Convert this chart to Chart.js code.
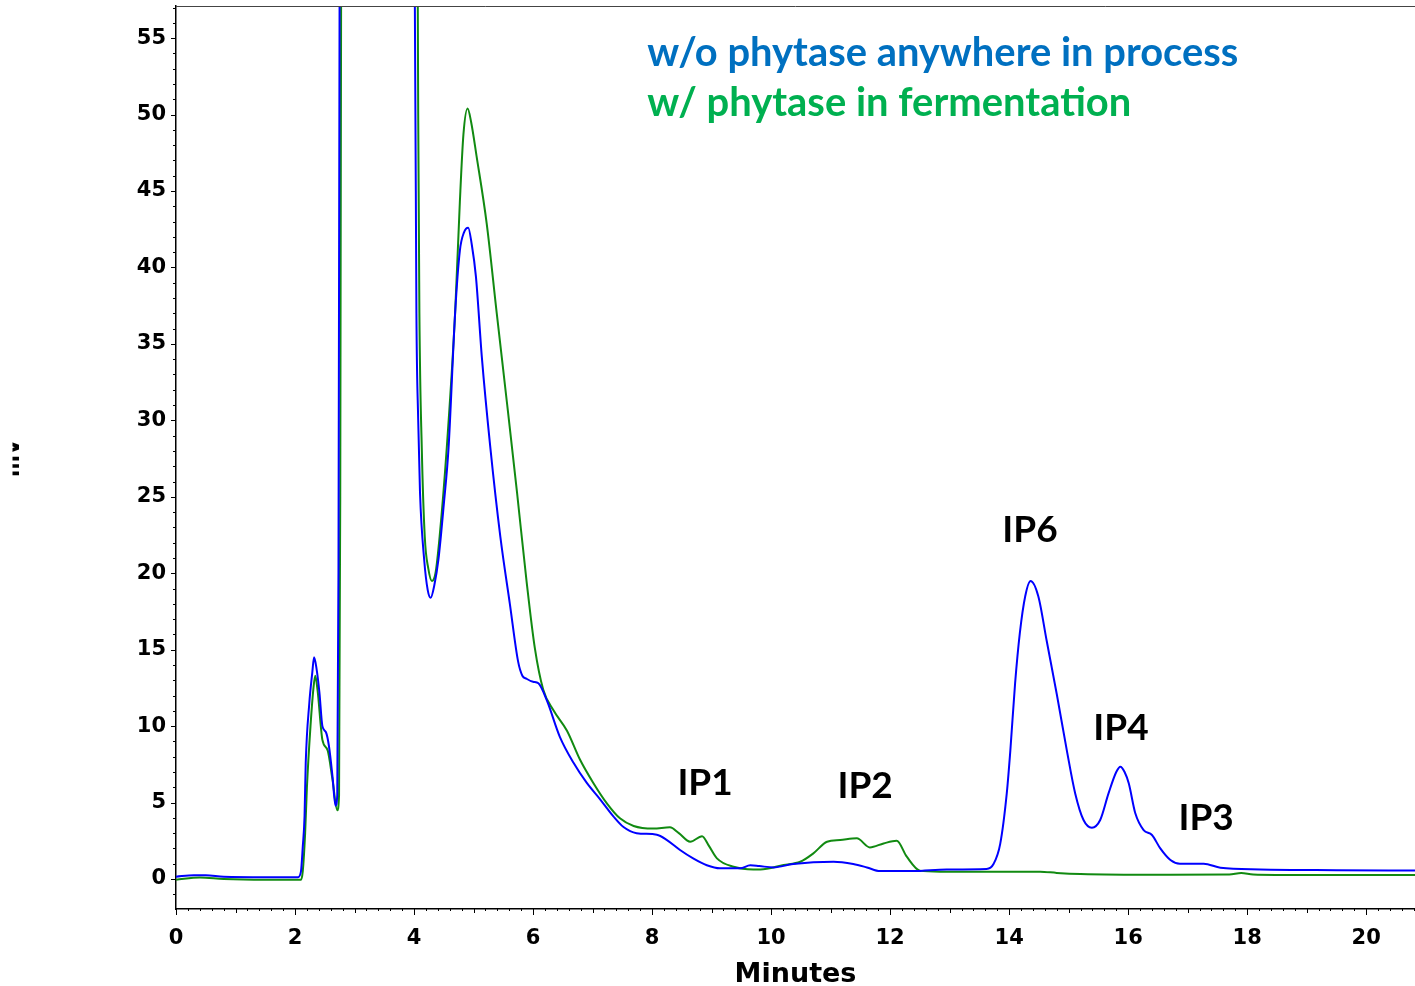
<!DOCTYPE html>
<html>
<head>
<meta charset="utf-8">
<title>Chromatogram</title>
<script src="https://cdn.jsdelivr.net/npm/chart.js"></script>
<style>
  html, body { margin: 0; padding: 0; background: #fff; }
  #wrap { width: 1415px; height: 986px; }
</style>
</head>
<body>
<div id="wrap"><canvas id="chart" width="1415" height="986"></canvas></div>
<script>
// retention time (min) and detector signal (mV)
const blueTime = [0.00, 0.30, 0.50, 0.80, 1.50, 2.05, 2.10, 2.13, 2.16, 2.18, 2.24, 2.29, 2.32, 2.36, 2.41, 2.46, 2.52, 2.57, 2.63, 2.68,
  2.71, 2.73, 2.75, 2.80, 3.40, 3.95, 4.01, 4.03, 4.04, 4.07, 4.10, 4.17, 4.23, 4.28, 4.34, 4.41, 4.50, 4.58, 4.69, 4.77,
  4.84, 4.91, 4.97, 5.04, 5.14, 5.28, 5.45, 5.61, 5.75, 5.82, 5.89, 6.00, 6.09, 6.23, 6.45, 6.68, 6.90, 7.13, 7.35, 7.52,
  7.74, 8.08, 8.25, 8.47, 8.69, 8.92, 9.14, 9.48, 9.65, 9.80, 10.04, 10.37, 11.05, 11.38, 11.61, 11.83, 12.39, 12.95, 13.62, 13.74,
  13.85, 13.96, 14.02, 14.10, 14.18, 14.27, 14.36, 14.49, 14.63, 14.80, 14.97, 15.11, 15.25, 15.39, 15.53, 15.67, 15.80, 15.87, 15.94, 16.01,
  16.12, 16.26, 16.40, 16.54, 16.71, 16.87, 17.27, 17.55, 18.22, 19.50, 20.82];
const blueSignal = [0.15, 0.25, 0.25, 0.15, 0.12, 0.12, 0.5, 2.1, 4.1, 7.6, 11.5, 13.5, 14.5, 13.8, 12.2, 10.0, 9.6, 8.7, 6.7, 4.8,
  5.5, 20, 60, 120, 200, 120, 60, 45, 37, 30, 25.3, 20.9, 18.9, 18.4, 19.2, 20.9, 24.5, 28.2, 37.0, 41.1,
  42.3, 42.6, 41.5, 39.4, 34.1, 28.3, 22.4, 18.0, 14.2, 13.3, 13.1, 12.9, 12.8, 11.7, 9.3, 7.6, 6.3, 5.2, 4.1, 3.4,
  3.0, 2.9, 2.55, 1.9, 1.35, 0.9, 0.7, 0.7, 0.9, 0.85, 0.76, 0.98, 1.13, 0.98, 0.76, 0.52, 0.52, 0.63, 0.66, 1.0,
  2.3, 5.6, 8.4, 12.8, 16.1, 18.5, 19.5, 18.5, 15.6, 12.1, 8.4, 5.6, 3.86, 3.36, 3.86, 5.6, 7.0, 7.35, 7.0, 6.26,
  4.3, 3.2, 2.88, 2.0, 1.24, 1.0, 1.0, 0.74, 0.63, 0.58, 0.55];

const greenTime = [0.00, 0.40, 0.80, 1.50, 2.10, 2.13, 2.17, 2.20, 2.26, 2.31, 2.34, 2.38, 2.46, 2.55, 2.63, 2.71, 2.74, 2.76, 2.78, 2.85,
  3.45, 4.00, 4.05, 4.07, 4.09, 4.13, 4.18, 4.24, 4.30, 4.36, 4.43, 4.55, 4.69, 4.77, 4.83, 4.90, 4.96, 5.05, 5.22, 5.39,
  5.56, 5.73, 5.89, 6.03, 6.17, 6.34, 6.57, 6.79, 7.01, 7.24, 7.46, 7.69, 8.02, 8.30, 8.45, 8.64, 8.84, 8.95, 9.09, 9.37,
  9.70, 9.82, 10.21, 10.49, 10.71, 10.94, 11.16, 11.44, 11.66, 11.89, 12.11, 12.28, 12.50, 12.84, 14.52, 14.80, 15.20, 16.50, 17.70, 17.90,
  18.10, 19.00, 20.82];
const greenSignal = [-0.05, 0.1, 0.0, -0.05, -0.05, 0.5, 3.0, 6.0, 10.0, 12.5, 13.3, 12.3, 9.1, 8.4, 6.5, 4.5, 5.5, 25, 70, 130,
  200, 130, 70, 50, 37, 28.2, 22.4, 20.3, 19.5, 20.0, 22.4, 28.2, 37.0, 44.3, 48.7, 50.4, 49.5, 47.3, 42.9, 37.0,
  31.2, 25.3, 19.5, 15.1, 12.4, 11.05, 9.7, 7.8, 6.3, 4.95, 3.97, 3.47, 3.3, 3.38, 3.0, 2.44, 2.8, 2.2, 1.35, 0.8,
  0.63, 0.63, 0.92, 1.13, 1.68, 2.44, 2.55, 2.66, 2.07, 2.33, 2.5, 1.46, 0.55, 0.48, 0.48, 0.4, 0.33, 0.28, 0.3, 0.4,
  0.3, 0.26, 0.26];

const xTickValues = [0, 2, 4, 6, 8, 10, 12, 14, 16, 18, 20];
const yTickValues = [0, 5, 10, 15, 20, 25, 30, 35, 40, 45, 50, 55];

const legendLines = ['w/o phytase anywhere in process', 'w/ phytase in fermentation'];
const legendColors = ['#0070C0', '#00B050'];

const peakNames = ['IP1', 'IP2', 'IP6', 'IP4', 'IP3'];
const peakLabelTime = [8.89, 11.58, 14.35, 15.88, 17.31];
const peakLabelSignal = [6.3, 6.1, 22.8, 9.9, 4.0];

const tickFont = { family: 'DejaVu Sans', weight: 'bold', size: 21 };

function toPoints(xs, ys) {
  return xs.map((x, i) => ({ x: x, y: ys[i] }));
}

function noPadding(s) {
  s.paddingTop = 0;
  s.paddingBottom = 0;
  s.paddingLeft = 0;
  s.paddingRight = 0;
}

// frame, minor ticks, the clipped mV label and the text overlays
const extras = {
  id: 'extras',
  afterDraw(chart) {
    const ctx = chart.ctx;
    const area = chart.chartArea;
    const xs = chart.scales.x;
    const ys = chart.scales.y;
    ctx.save();
    ctx.lineWidth = 1;

    ctx.beginPath();
    ctx.strokeStyle = '#444';
    ctx.moveTo(area.left, area.top + 0.5);
    ctx.lineTo(area.right, area.top + 0.5);
    ctx.stroke();

    ctx.strokeStyle = '#000';
    ctx.beginPath();
    for (let i = 0; i <= 104; i++) {
      const t = i * 0.2;
      if (t > xs.max) break;
      const px = Math.round(xs.getPixelForValue(t)) + 0.5;
      let len = 2;
      if (i % 10 === 0) len = 6;
      else if (i % 5 === 0) len = 4;
      ctx.moveTo(px, area.bottom);
      ctx.lineTo(px, area.bottom + len);
    }
    for (let v = -1; v <= 57; v++) {
      const py = Math.round(ys.getPixelForValue(v)) + 0.5;
      const len = v % 5 === 0 ? 5 : 3;
      ctx.moveTo(area.left, py);
      ctx.lineTo(area.left - len, py);
    }
    ctx.stroke();

    // y axis title, cut off at the left edge like the original
    ctx.save();
    ctx.beginPath();
    ctx.rect(12.5, 0, 20, chart.height);
    ctx.clip();
    ctx.translate(18.5, 458);
    ctx.rotate(-Math.PI / 2);
    ctx.fillStyle = '#000';
    ctx.font = 'bold 21px "DejaVu Sans"';
    ctx.textAlign = 'center';
    ctx.textBaseline = 'alphabetic';
    ctx.fillText('mV', 0, 0);
    ctx.restore();

    ctx.font = 'bold 40px Lato';
    ctx.textAlign = 'left';
    ctx.textBaseline = 'alphabetic';
    const lx = xs.getPixelForValue(7.92);
    legendLines.forEach((txt, i) => {
      ctx.fillStyle = legendColors[i];
      ctx.fillText(txt, lx, 66 + i * 50, i === 0 ? 591 : 484);
    });

    ctx.fillStyle = '#000';
    ctx.font = 'bold 37px Lato';
    ctx.textAlign = 'center';
    ctx.textBaseline = 'middle';
    peakNames.forEach((name, i) => {
      ctx.fillText(name, xs.getPixelForValue(peakLabelTime[i]), ys.getPixelForValue(peakLabelSignal[i]));
    });
    ctx.restore();
  }
};

new Chart(document.getElementById('chart'), {
  type: 'line',
  data: {
    datasets: [
      {
        label: legendLines[0],
        data: toPoints(blueTime, blueSignal),
        borderColor: '#0000FF',
        borderWidth: 2,
        pointRadius: 0,
        cubicInterpolationMode: 'monotone',
        fill: false
      },
      {
        label: legendLines[1],
        data: toPoints(greenTime, greenSignal),
        borderColor: '#118A11',
        borderWidth: 2,
        pointRadius: 0,
        cubicInterpolationMode: 'monotone',
        fill: false
      }
    ]
  },
  options: {
    responsive: false,
    animation: false,
    layout: { padding: { top: 6, right: 0, left: 0, bottom: 0 } },
    plugins: { legend: { display: false }, tooltip: { enabled: false } },
    scales: {
      x: {
        type: 'linear',
        min: 0,
        max: 20.82,
        afterFit(s) { s.height = 77; noPadding(s); },
        afterBuildTicks(s) { s.ticks = xTickValues.map(v => ({ value: v })); },
        grid: { display: false },
        border: { display: true, color: '#000', width: 1.5 },
        ticks: { color: '#000', font: tickFont, padding: 9, maxRotation: 0, autoSkip: false },
        title: {
          display: true,
          text: 'Minutes',
          color: '#000',
          font: { family: 'DejaVu Sans', weight: 'bold', size: 27 },
          padding: { top: 2, bottom: -5 }
        }
      },
      y: {
        min: -1.96,
        max: 57.1,
        afterFit(s) { s.width = 176; noPadding(s); },
        afterBuildTicks(s) { s.ticks = yTickValues.map(v => ({ value: v })); },
        grid: { display: false },
        border: { display: true, color: '#000', width: 1.5 },
        ticks: { color: '#000', font: tickFont, padding: 2, autoSkip: false }
      }
    }
  },
  plugins: [extras]
});
</script>
</body>
</html>
